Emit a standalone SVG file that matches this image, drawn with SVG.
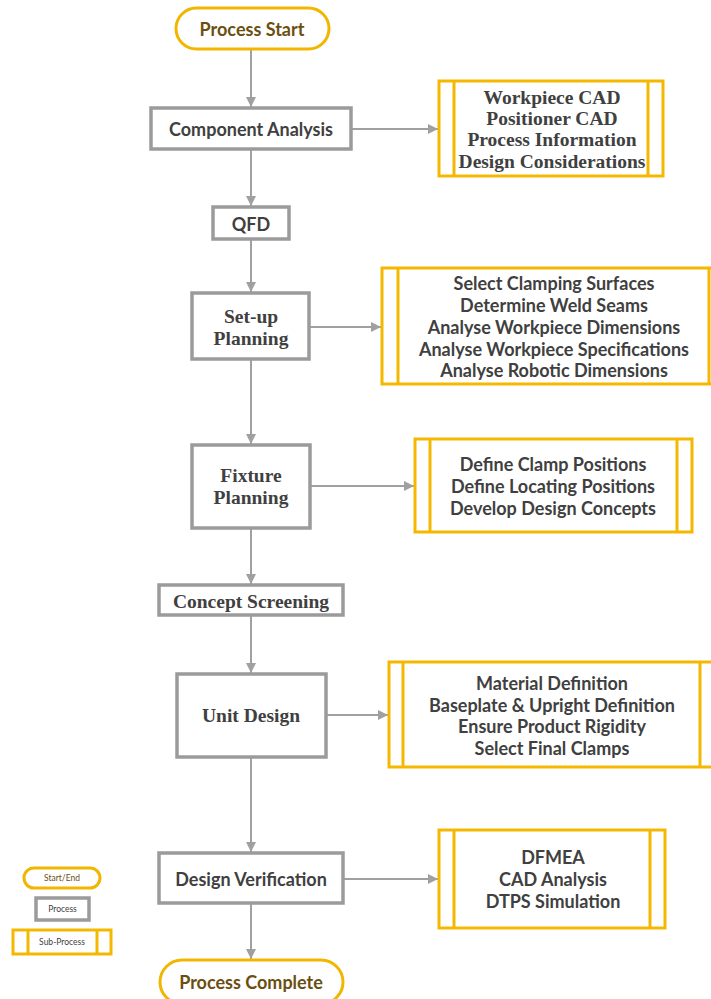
<svg xmlns="http://www.w3.org/2000/svg" width="711" height="999" viewBox="0 0 711 999">
<defs>
<marker id="ah" viewBox="0 0 10 10" refX="10" refY="5" markerWidth="10" markerHeight="10" markerUnits="userSpaceOnUse" orient="auto">
<path d="M0,0 L10,5 L0,10 Z" fill="#A0A0A0"/>
</marker>
<style>
.term{fill:#fff;stroke:#F2B600;stroke-width:3}
.proc{fill:#fff;stroke:#9B9B9B;stroke-width:3.5}
.sub{fill:#fff;stroke:#F5B800;stroke-width:3}
.subl{stroke:#F5B800;stroke-width:3}
.conn{stroke:#A0A0A0;stroke-width:2;fill:none;marker-end:url(#ah)}
.ts{font-family:Lato,"Open Sans",sans-serif;font-weight:bold;fill:#404040;text-anchor:middle;dominant-baseline:central;font-size:18px}
.tt{font-family:"Liberation Serif","Times New Roman",serif;font-weight:bold;fill:#404040;text-anchor:middle;dominant-baseline:central;font-size:19.5px}
.tb{font-family:Lato,"Open Sans",sans-serif;font-weight:bold;fill:#6B4F10;text-anchor:middle;dominant-baseline:central;font-size:18px}
.tl{font-family:Lato,"Open Sans",sans-serif;text-anchor:middle;dominant-baseline:central;font-size:8.5px;fill:#404040}
</style>
</defs>
<rect width="711" height="999" fill="#fff"/>
<g id="connectors">
<line class="conn" x1="251" y1="50" x2="251" y2="107"/>
<line class="conn" x1="351" y1="129" x2="438" y2="129"/>
<line class="conn" x1="251" y1="150" x2="251" y2="206"/>
<line class="conn" x1="251" y1="240" x2="251" y2="292"/>
<line class="conn" x1="309" y1="327" x2="381" y2="327"/>
<line class="conn" x1="251" y1="360" x2="251" y2="444"/>
<line class="conn" x1="310" y1="486" x2="414" y2="486"/>
<line class="conn" x1="251" y1="529" x2="251" y2="584"/>
<line class="conn" x1="251" y1="616" x2="251" y2="673"/>
<line class="conn" x1="326" y1="715" x2="388" y2="715"/>
<line class="conn" x1="251" y1="758" x2="251" y2="852"/>
<line class="conn" x1="343" y1="879" x2="438" y2="879"/>
<line class="conn" x1="251" y1="904" x2="251" y2="959"/>
</g>
<g id="start">
<rect class="term" x="176" y="8" width="153" height="41" rx="20.5"/>
<text class="tb" x="252" y="29">Process Start</text>
</g>
<g id="component-analysis">
<rect class="proc" x="151" y="108" width="200" height="41"/>
<text class="ts" x="251" y="129">Component Analysis</text>
</g>
<g id="sub-inputs">
<rect class="sub" x="439" y="81" width="224" height="95"/>
<line class="subl" x1="454" y1="81" x2="454" y2="176"/>
<line class="subl" x1="648" y1="81" x2="648" y2="176"/>
<text class="tt" x="552" y="97">Workpiece CAD</text>
<text class="tt" x="552" y="118">Positioner CAD</text>
<text class="tt" x="552" y="139">Process Information</text>
<text class="tt" x="552" y="161">Design Considerations</text>
</g>
<g id="qfd">
<rect class="proc" x="213" y="207" width="76" height="32"/>
<text class="ts" x="251" y="224">QFD</text>
</g>
<g id="setup-planning">
<rect class="proc" x="192" y="293" width="117" height="66"/>
<text class="tt" x="251" y="316">Set-up</text>
<text class="tt" x="251" y="338">Planning</text>
</g>
<g id="sub-setup">
<rect class="sub" x="382" y="268" width="345" height="116"/>
<line class="subl" x1="398" y1="268" x2="398" y2="384"/>
<line class="subl" x1="709" y1="268" x2="709" y2="384"/>
<text class="ts" x="554" y="283">Select Clamping Surfaces</text>
<text class="ts" x="554" y="305">Determine Weld Seams</text>
<text class="ts" x="554" y="327">Analyse Workpiece Dimensions</text>
<text class="ts" x="554" y="349">Analyse Workpiece Specifications</text>
<text class="ts" x="554" y="370">Analyse Robotic Dimensions</text>
</g>
<g id="fixture-planning">
<rect class="proc" x="192" y="445" width="118" height="83"/>
<text class="tt" x="251" y="475">Fixture</text>
<text class="tt" x="251" y="497">Planning</text>
</g>
<g id="sub-fixture">
<rect class="sub" x="415" y="439" width="277" height="93"/>
<line class="subl" x1="430" y1="439" x2="430" y2="532"/>
<line class="subl" x1="677" y1="439" x2="677" y2="532"/>
<text class="ts" x="553" y="464">Define Clamp Positions</text>
<text class="ts" x="553" y="486">Define Locating Positions</text>
<text class="ts" x="553" y="508">Develop Design Concepts</text>
</g>
<g id="concept-screening">
<rect class="proc" x="159" y="585" width="184" height="30"/>
<text class="tt" x="251" y="601">Concept Screening</text>
</g>
<g id="unit-design">
<rect class="proc" x="177" y="674" width="149" height="83"/>
<text class="tt" x="251" y="715">Unit Design</text>
</g>
<g id="sub-unit">
<rect class="sub" x="389" y="662" width="340" height="105"/>
<line class="subl" x1="403" y1="662" x2="403" y2="767"/>
<line class="subl" x1="700" y1="662" x2="700" y2="767"/>
<text class="ts" x="552" y="683">Material Definition</text>
<text class="ts" x="552" y="705">Baseplate &amp; Upright Definition</text>
<text class="ts" x="552" y="726">Ensure Product Rigidity</text>
<text class="ts" x="552" y="748">Select Final Clamps</text>
</g>
<g id="design-verification">
<rect class="proc" x="159" y="853" width="184" height="50"/>
<text class="ts" x="251" y="879">Design Verification</text>
</g>
<g id="sub-verification">
<rect class="sub" x="439" y="830" width="226" height="98"/>
<line class="subl" x1="454" y1="830" x2="454" y2="928"/>
<line class="subl" x1="650" y1="830" x2="650" y2="928"/>
<text class="ts" x="553" y="857">DFMEA</text>
<text class="ts" x="553" y="879">CAD Analysis</text>
<text class="ts" x="553" y="901">DTPS Simulation</text>
</g>
<g id="end">
<rect class="term" x="160" y="960" width="183" height="44" rx="22"/>
<text class="tb" x="251" y="982">Process Complete</text>
</g>
<g id="legend">
<rect class="term" x="24" y="868" width="76" height="20" rx="10" stroke-width="2.5"/>
<text class="tl" x="62" y="878" fill="#6B4F10" style="fill:#6B4F10">Start/End</text>
<rect class="proc" x="36" y="898" width="53" height="22" stroke-width="3"/>
<text class="tl" x="62.5" y="909">Process</text>
<rect class="sub" x="13" y="930" width="98" height="24" stroke-width="2.5"/>
<line class="subl" x1="28" y1="930" x2="28" y2="954" stroke-width="2.5"/>
<line class="subl" x1="97" y1="930" x2="97" y2="954" stroke-width="2.5"/>
<text class="tl" x="62" y="942">Sub-Process</text>
</g>
</svg>
